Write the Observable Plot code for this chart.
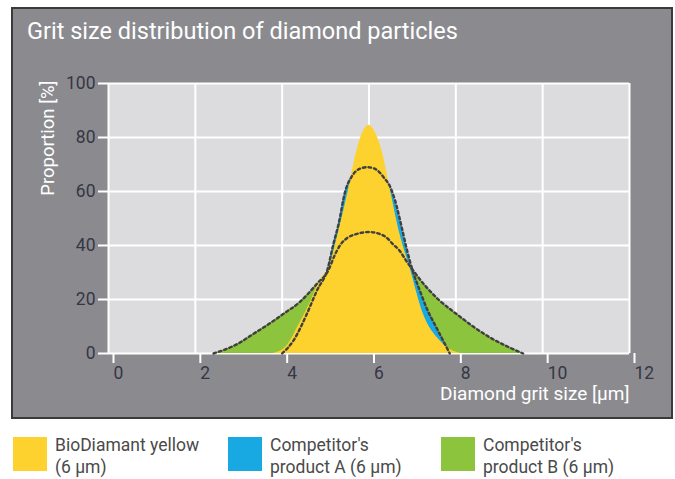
<!DOCTYPE html>
<html>
<head>
<meta charset="utf-8">
<script src="https://cdn.jsdelivr.net/npm/d3@7"></script>
<script src="https://cdn.jsdelivr.net/npm/@observablehq/plot@0.6"></script>
<style>
  body { margin: 0; background: #fff; font-family: Roboto, "Open Sans", sans-serif; }
  #wrap { position: relative; width: 675px; height: 479px; overflow: hidden; }
  #panel { position: absolute; left: 11px; top: 7px; width: 662px; height: 412px; box-sizing: border-box;
           background: #8b8b8f; border: 2px solid #3a3a3a; }
  #title { position: absolute; left: 27px; top: 17px; font-size: 23.5px; line-height: 28px; color: #fff; white-space: nowrap; }
  #chart { position: absolute; left: 0; top: 0; }
  .leg { position: absolute; top: 437px; }
  .sw { position: absolute; left: 0; top: 0; width: 34px; height: 34px; }
  .lt { position: absolute; left: 42px; top: -3px; font-size: 17.5px; line-height: 22px; color: #4a4a4a; white-space: nowrap; }
</style>
</head>
<body>
<div id="wrap">
  <div id="panel"></div>
  <div id="title"></div>
  <div id="chart"></div>
  <div id="legend"></div>
</div>
<script>
// ---- data ----
const title = "Grit size distribution of diamond particles";
const xLabel = "Diamond grit size [µm]";
const yLabel = "Proportion [%]";
const xTicks = [0, 2, 4, 6, 8, 10, 12];
const yTicks = [0, 20, 40, 60, 80, 100];

const seriesNames = ["BioDiamant yellow\n(6 µm)", "Competitor's\nproduct A (6 µm)", "Competitor's\nproduct B (6 µm)"];
const seriesColors = ["#fed22e", "#18a8e2", "#8dc43e"];

// BioDiamant yellow
const yellowX = [3.8, 3.95, 4.1, 4.4, 4.65, 4.87, 5.1, 5.3, 5.52, 5.72, 5.86, 6.0, 6.14, 6.3, 6.5, 6.7, 6.94, 7.25, 7.63, 7.9, 8.13];
const yellowY = [0, 0.8, 2.6, 11, 19, 27, 33, 45, 60, 75, 82, 84.5, 82, 75, 60, 45, 32, 14.7, 4.8, 1.2, 0];
// Competitor's product A
const aX = [4.0, 4.26, 4.57, 4.8, 5.05, 5.18, 5.3, 5.45, 5.6, 5.8, 5.97, 6.15, 6.35, 6.48, 6.6, 6.75, 6.88, 7.0, 7.17, 7.35, 7.55, 7.86];
const aY = [0, 4.8, 14.7, 23.3, 31.5, 40.6, 48, 60, 65.5, 68.5, 69, 68.3, 65, 62, 56.7, 47, 38, 31, 23.3, 16, 9.7, 0];
// Competitor's product B
const bX = [2.42, 3.0, 3.34, 3.7, 4.03, 4.4, 4.8, 5.07, 5.2, 5.33, 5.5, 5.72, 6.0, 6.2, 6.4, 6.55, 6.71, 6.85, 7.02, 7.3, 7.6, 8.01, 8.4, 8.78, 9.2, 9.55];
const bY = [0, 3.8, 7.3, 11, 14.7, 19, 25.8, 31, 36, 40, 42.8, 44.3, 45, 44.5, 43, 40.5, 38, 34.5, 30.7, 25, 20, 14.7, 10, 6, 2.5, 0];

// ---- build ----
const toRows = (xs, ys) => xs.map((x, i) => ({x, y: ys[i]}));
const yellow = toRows(yellowX, yellowY);
const prodA = toRows(aX, aY);
const prodB = toRows(bX, bY);

document.getElementById("title").textContent = title;

const tickColor = "#363645";
const curve = "monotone-x";
const dash = {stroke: "#404040", strokeWidth: 2.4, strokeDasharray: "2.6,3", curve};

const chart = Plot.plot({
  width: 675,
  height: 420,
  marginLeft: 108,
  marginRight: 46,
  marginTop: 83,
  marginBottom: 67,
  style: {background: "transparent", fontFamily: "Roboto, sans-serif", fontSize: "17.5px", overflow: "visible"},
  x: {domain: [0, 12]},
  y: {domain: [0, 100]},
  marks: [
    Plot.frame({fill: "#dcdcdf", stroke: null}),
    Plot.gridX({ticks: xTicks, stroke: "white", strokeOpacity: 1, strokeWidth: 2}),
    Plot.gridY({ticks: yTicks, stroke: "white", strokeOpacity: 1, strokeWidth: 2}),
    Plot.axisY({ticks: yTicks, tickSize: 10, tickPadding: 3, stroke: "white", strokeWidth: 2, fill: tickColor, label: null, fontSize: 17.5}),
    Plot.axisX({ticks: xTicks, tickSize: 10, tickPadding: 3, stroke: "white", strokeWidth: 2, fill: tickColor, label: null, fontSize: 17.5, textAnchor: "start", dx: 5}),
    Plot.areaY(prodB, {x: "x", y: "y", fill: seriesColors[2], curve}),
    Plot.areaY(prodA, {x: "x", y: "y", fill: seriesColors[1], curve}),
    Plot.areaY(yellow, {x: "x", y: "y", fill: seriesColors[0], curve}),
    Plot.lineY(prodB, {x: "x", y: "y", ...dash}),
    Plot.lineY(prodA, {x: "x", y: "y", ...dash}),
    Plot.text([yLabel], {text: d => d, frameAnchor: "top-left", lineAnchor: "middle", rotate: -90, textAnchor: "end", dx: -60, dy: -3, fill: "white", fontSize: 18.5}),
    Plot.text([xLabel], {text: d => d, frameAnchor: "bottom-right", lineAnchor: "middle", textAnchor: "end", dy: 40, fill: "white", fontSize: 19})
  ]
});
document.getElementById("chart").appendChild(chart);

// legend
const legLeft = [13, 228, 441];
const legend = document.getElementById("legend");
seriesNames.forEach((name, i) => {
  const g = document.createElement("div");
  g.className = "leg";
  g.style.left = legLeft[i] + "px";
  const sw = document.createElement("div");
  sw.className = "sw";
  sw.style.background = seriesColors[i];
  const t = document.createElement("div");
  t.className = "lt";
  t.innerHTML = name.split("\n").map(s => s.replace(/&/g, "&amp;").replace(/</g, "&lt;")).join("<br>");
  g.appendChild(sw);
  g.appendChild(t);
  legend.appendChild(g);
});
</script>
</body>
</html>
